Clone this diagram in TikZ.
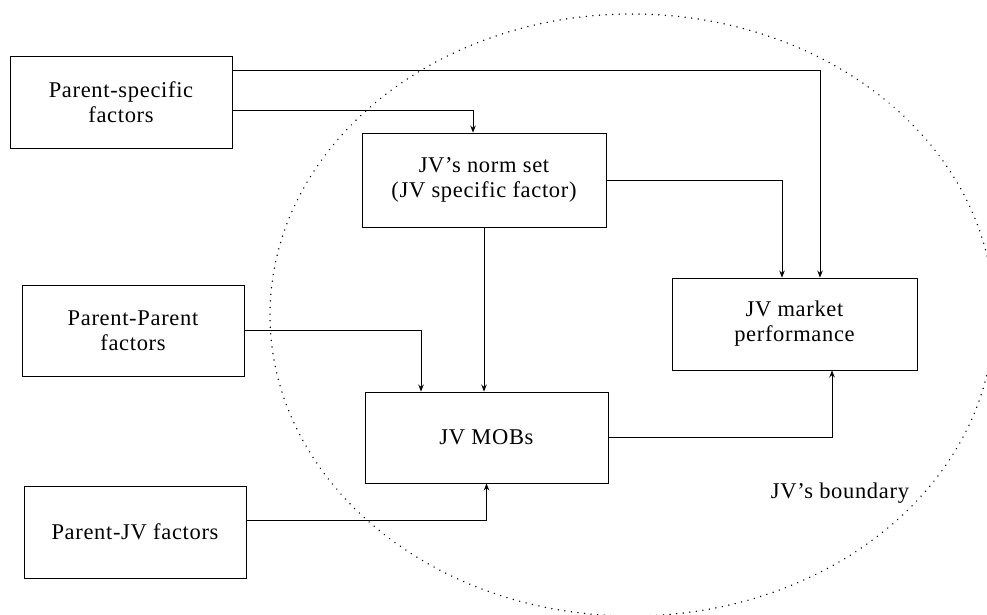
\documentclass[tikz,border=0pt]{standalone}
\usepackage{fontspec}
\setmainfont{Liberation Serif}
\newfontfamily\boxfont[LetterSpace=3]{Liberation Serif}
\usetikzlibrary{arrows.meta}
\begin{document}
\begin{tikzpicture}[x=1pt,y=-1pt,
  txt/.style={font=\boxfont\fontsize{22.5}{25}\selectfont},
  box/.style={txt, draw, line width=0.9pt, inner sep=0pt, align=center},
  link/.style={line width=0.9pt, -{Stealth[length=7pt,width=5.5pt]}},
  boundary/.style={line width=1.5pt, line cap=round, dash pattern=on 0.1pt off 6.5pt}]
\useasboundingbox (0,0) rectangle (987,614);

% the joint venture's boundary
\draw[boundary] (632,315) ellipse [x radius=362pt, y radius=301pt];
\node[txt] (lbl) at (840,493) {JV’s boundary};

% factor boxes
\node[box, minimum width=222pt, minimum height=92pt] (ps) at (121,102) {Parent-specific\\factors};
\node[box, minimum width=222pt, minimum height=91pt] (pp) at (133,330.5) {Parent-Parent\\factors};
\node[box, minimum width=222pt, minimum height=92pt] (pj) at (135,532) {Parent-JV factors};
\node[box, minimum width=244pt, minimum height=94pt] (norm) at (484,180) {JV’s norm set\\(JV specific factor)};
\node[box, minimum width=243pt, minimum height=91pt] (mobs) at (486.5,437.5) {JV MOBs};
\node[box, minimum width=245pt, minimum height=92pt] (mkt) at (794.5,324) {JV market\\performance};

% influences
\draw[link] ([yshift=32pt]ps.east) -| ([xshift=25.5pt]mkt.north);
\draw[link] ([yshift=-8pt]ps.east) -| ([xshift=-11pt]norm.north);
\draw[link] (norm.east) -| ([xshift=-12.5pt]mkt.north);
\draw[link] (norm.south) -- (norm.south |- mobs.north);
\draw[link] (pp.east) -| ([xshift=-65.5pt]mobs.north);
\draw[link] ([yshift=12pt]pj.east) -| (mobs.south);
\draw[link] (mobs.east) -| ([xshift=37.5pt]mkt.south);
\end{tikzpicture}
\end{document}
